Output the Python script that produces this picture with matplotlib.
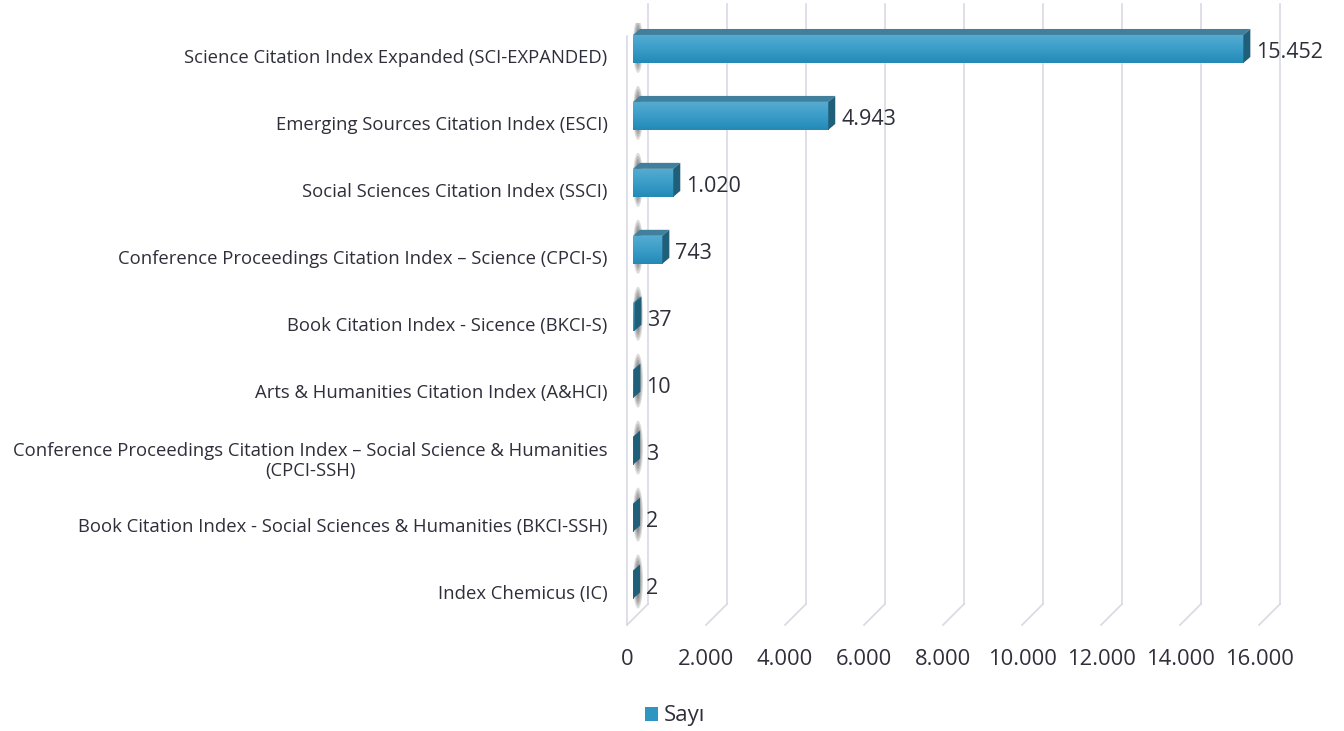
import numpy as np
import matplotlib
matplotlib.use("Agg")
import matplotlib.pyplot as plt
from matplotlib.patches import Polygon, Ellipse
from matplotlib.colors import LinearSegmentedColormap

# data
categories = [
    "Science Citation Index Expanded (SCI-EXPANDED)",
    "Emerging Sources Citation Index (ESCI)",
    "Social Sciences Citation Index (SSCI)",
    "Conference Proceedings Citation Index – Science (CPCI-S)",
    "Book Citation Index - Sicence (BKCI-S)",
    "Arts & Humanities Citation Index (A&HCI)",
    "Conference Proceedings Citation Index – Social Science & Humanities\n(CPCI-SSH)",
    "Book Citation Index - Social Sciences & Humanities (BKCI-SSH)",
    "Index Chemicus (IC)",
]
values = [15452, 4943, 1020, 743, 37, 10, 3, 2, 2]
value_labels = ["15.452", "4.943", "1.020", "743", "37", "10", "3", "2", "2"]
xticks = [0, 2000, 4000, 6000, 8000, 10000, 12000, 14000, 16000]
xtick_labels = ["0", "2.000", "4.000", "6.000", "8.000", "10.000", "12.000", "14.000", "16.000"]
series_name = "Sayı"

INK = "#2e2f3a"
GRID = "#d9d9e3"
TOP = "#41809c"
SIDE = "#1f5f7a"
FRONT = LinearSegmentedColormap.from_list("front", ["#55abd0", "#3a9dc8", "#2389b6"])

plt.rcParams["font.family"] = ["Open Sans", "DejaVu Sans"]

W, H = 1344, 731
fig = plt.figure(figsize=(W / 100, H / 100), dpi=100)
ax = fig.add_axes([627 / W, (H - 625) / H, 632 / W, 602.5 / H])
XMAX = 16000
ax.set_xlim(0, XMAX)
ax.set_ylim(8.5, -0.5)

# pixel -> data unit helpers for the fake 3D depth
ux = XMAX / 632.0
uy = 9 / 602.5
wall_dx, wall_dy = 21 * ux, 21 * uy     # floor / wall depth
off_x, off_y = 6 * ux, 7 * uy           # bar front plane offset
bd_x, bd_y = 7 * ux, 6 * uy             # bar depth
bar_h = 28 * uy

# walls & gridlines
for x in xticks:
    ax.plot([x, x + wall_dx], [8.5, 8.5 - wall_dy], color=GRID, lw=1.2, clip_on=False, zorder=1)
    ax.plot([x + wall_dx] * 2, [8.5 - wall_dy, -0.5 - wall_dy + 0.03], color=GRID, lw=1.2,
            clip_on=False, zorder=1)
ax.plot([0, 0], [8.5, -0.3], color=GRID, lw=1.2, clip_on=False, zorder=1)

y = np.arange(len(categories))
yc = y - off_y
bars = ax.barh(yc, values, height=bar_h, left=off_x, color="#2f96c2", lw=0, zorder=3,
               label=series_name)

for i, (rect, v) in enumerate(zip(bars, values)):
    x0, x1 = off_x, off_x + v
    ytop, ybot = yc[i] - bar_h / 2, yc[i] + bar_h / 2
    # soft shadow behind the bar
    for sw, sh in [(10, 54), (8, 48), (6, 42), (4, 36), (2.5, 30)]:
        ax.add_patch(Ellipse((off_x + 5 * ux, yc[i] - 3 * uy), sw * ux, sh * uy,
                             color="#2a2a2a", alpha=0.16, lw=0, zorder=2.5))
    # front face gradient
    grad = np.linspace(0, 1, 64).reshape(-1, 1)
    im = ax.imshow(grad, cmap=FRONT, extent=(x0, x1, ybot, ytop), aspect="auto",
                   origin="upper", zorder=3, interpolation="bilinear")
    im.set_clip_path(rect)
    # top face
    ax.add_patch(Polygon([(x0, ytop), (x1, ytop), (x1 + bd_x, ytop - bd_y), (x0 + bd_x, ytop - bd_y)],
                         closed=True, color=TOP, lw=0, zorder=4))
    # side face
    ax.add_patch(Polygon([(x1, ytop), (x1 + bd_x, ytop - bd_y), (x1 + bd_x, ybot - bd_y), (x1, ybot)],
                         closed=True, color=SIDE, lw=0, zorder=4))
    ax.text(x1 + bd_x + 6 * ux, yc[i] + 4 * uy, value_labels[i], ha="left", va="center",
            fontsize=15.5, color=INK, zorder=5)

ax.set_xlim(0, XMAX)
ax.set_ylim(8.5, -0.5)

ax.set_yticks(y)
ax.set_yticklabels(categories, fontsize=13.35, color=INK, multialignment="center")
ax.set_xticks(xticks)
ax.set_xticklabels(xtick_labels, fontsize=15.8, color=INK)
ax.tick_params(axis="y", length=0, pad=14)
ax.tick_params(axis="x", length=0, pad=17)
for s in ax.spines.values():
    s.set_visible(False)
ax.patch.set_alpha(0)

fig.legend(handles=[bars], labels=[series_name], loc="center",
           bbox_to_anchor=(675 / W, 1 - 716 / H), frameon=False, fontsize=16,
           handlelength=0.6, handleheight=0.6, handletextpad=0.25, labelcolor=INK)

fig.savefig("out.png", dpi=100)
